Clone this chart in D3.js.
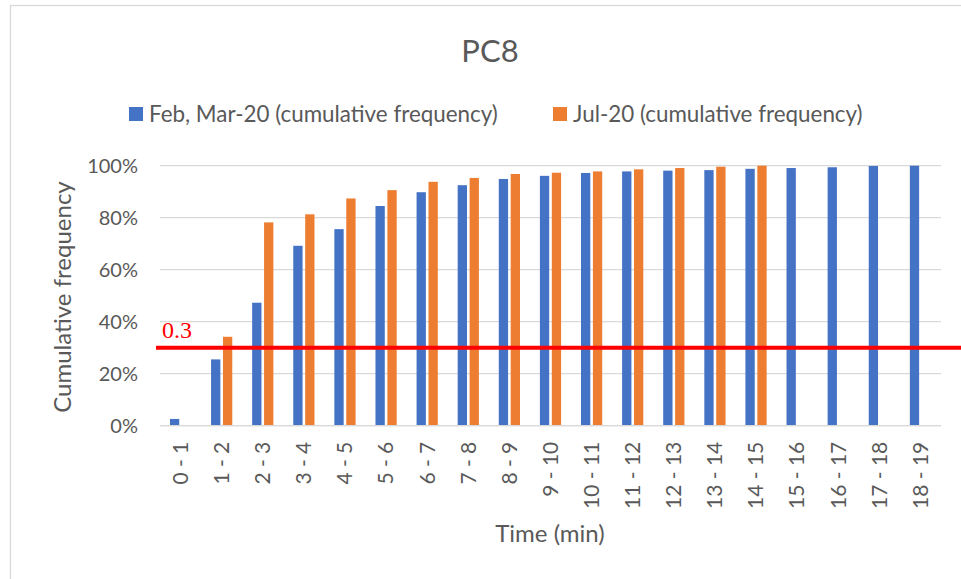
<!DOCTYPE html>
<html>
<head>
    <meta charset="utf-8" />
    <title>PC8</title>
    <script src="https://d3js.org/d3.v7.min.js"></script>
    <style>
        body { margin: 0; background: #fff; }
        svg { display: block; font-family: Lato, "Open Sans", sans-serif; }
        .grid line { stroke: #d9d9d9; stroke-width: 1.3; }
        .lbl { fill: #595959; }
    </style>
</head>
<body>
<div id="chart"></div>
<script type="text/javascript">
    // data
    var categories = ["0 - 1","1 - 2","2 - 3","3 - 4","4 - 5","5 - 6","6 - 7","7 - 8","8 - 9","9 - 10",
                      "10 - 11","11 - 12","12 - 13","13 - 14","14 - 15","15 - 16","16 - 17","17 - 18","18 - 19"];
    var febMar = [0.026,0.255,0.473,0.692,0.756,0.845,0.898,0.925,0.949,0.961,
                  0.972,0.978,0.981,0.983,0.988,0.991,0.994,0.999,1.0];
    var jul20  = [0,0.342,0.782,0.813,0.874,0.906,0.938,0.953,0.968,0.973,
                  0.978,0.986,0.991,0.996,1.0,null,null,null,null];
    var seriesNames = ["Feb, Mar-20 (cumulative frequency)", "Jul-20 (cumulative frequency)"];
    var colors = ["#4472C4", "#ED7D31"];
    var yTicks = [0, 0.2, 0.4, 0.6, 0.8, 1.0];
    var threshold = 0.3;

    var W = 961, H = 579;
    var plotL = 160, plotR = 941, plotT = 165.7, plotB = 425.7;

    var svg = d3.select("#chart").append("svg")
        .attr("width", W)
        .attr("height", H);

    // chart frame (runs past the picture on the right and bottom)
    svg.append("rect")
        .attr("x", 10.5).attr("y", 5.5)
        .attr("width", 1000).attr("height", 700)
        .attr("fill", "none").attr("stroke", "#d9d9d9").attr("stroke-width", 1.3);

    var x0 = d3.scaleBand()
        .domain(categories)
        .range([plotL, plotR])
        .paddingInner(0.484)
        .paddingOuter(0.242);
    var x1 = d3.scaleBand()
        .domain([0, 1])
        .range([0, x0.bandwidth()])
        .paddingInner(0.22);
    var y = d3.scaleLinear()
        .domain([0, 1])
        .range([plotB, plotT]);

    // gridlines
    svg.append("g")
        .attr("class", "grid")
        .selectAll("line")
        .data(yTicks)
        .enter().append("line")
        .attr("x1", plotL).attr("x2", plotR)
        .attr("y1", function(d) { return y(d); })
        .attr("y2", function(d) { return y(d); });

    // y axis labels
    var yAxis = d3.axisLeft(y).tickValues(yTicks).tickFormat(d3.format(".0%")).tickSize(0).tickPadding(22);
    var gy = svg.append("g").attr("transform", "translate(" + plotL + ",0)").call(yAxis);
    gy.select(".domain").remove();
    gy.selectAll("text").attr("class", "lbl").style("font-size", "20px").style("font-family", "Lato, sans-serif");

    // bars
    var rows = categories.map(function(c, i) { return { cat: c, vals: [febMar[i], jul20[i]] }; });
    var groups = svg.append("g").selectAll("g")
        .data(rows)
        .enter().append("g")
        .attr("transform", function(d) { return "translate(" + x0(d.cat) + ",0)"; });
    groups.selectAll("rect")
        .data(function(d) { return d.vals.map(function(v, k) { return { k: k, v: v }; }).filter(function(e) { return e.v !== null; }); })
        .enter().append("rect")
        .attr("x", function(d) { return x1(d.k); })
        .attr("width", x1.bandwidth())
        .attr("y", function(d) { return y(d.v); })
        .attr("height", function(d) { return y(0) - y(d.v); })
        .attr("fill", function(d) { return colors[d.k]; });

    // x axis
    var xAxis = d3.axisBottom(x0).tickSize(0).tickPadding(0);
    var gx = svg.append("g").attr("transform", "translate(0," + plotB + ")").call(xAxis);
    gx.select(".domain").attr("stroke", "#d9d9d9").attr("stroke-width", 1.3)
        .attr("d", "M" + plotL + ",0H" + plotR);
    gx.selectAll("text")
        .attr("class", "lbl")
        .style("font-size", "21px")
        .style("font-family", "Lato, sans-serif")
        .attr("transform", "rotate(-90)")
        .attr("text-anchor", "end")
        .attr("dy", "0.35em")
        .attr("x", -16)
        .attr("y", 0);

    // threshold line
    svg.append("line")
        .attr("x1", 156).attr("x2", W)
        .attr("y1", y(threshold)).attr("y2", y(threshold))
        .attr("stroke", "#ff0000").attr("stroke-width", 4);
    svg.append("text")
        .attr("x", 162).attr("y", y(threshold) - 9.5)
        .attr("fill", "#ff0000")
        .style("font-family", "'Liberation Serif', 'Times New Roman', serif")
        .style("font-size", "24px")
        .text(threshold);

    // titles
    svg.append("text").attr("class", "lbl")
        .attr("x", 490).attr("y", 62)
        .attr("text-anchor", "middle")
        .style("font-size", "31px")
        .text("PC8");
    svg.append("text").attr("class", "lbl")
        .attr("transform", "translate(71,297) rotate(-90)")
        .attr("text-anchor", "middle")
        .style("font-size", "24px")
        .text("Cumulative frequency");
    svg.append("text").attr("class", "lbl")
        .attr("x", 550).attr("y", 542)
        .attr("text-anchor", "middle")
        .style("font-size", "24px")
        .text("Time (min)");

    // legend
    var legX = [129, 553];
    var leg = svg.append("g").selectAll("g")
        .data(seriesNames)
        .enter().append("g")
        .attr("transform", function(d, i) { return "translate(" + legX[i] + ",107)"; });
    leg.append("rect").attr("width", 14).attr("height", 14)
        .attr("fill", function(d, i) { return colors[i]; });
    leg.append("text").attr("class", "lbl")
        .attr("x", 20).attr("y", 14.5)
        .style("font-size", "22.4px")
        .text(function(d) { return d; });
</script>
</body>
</html>
